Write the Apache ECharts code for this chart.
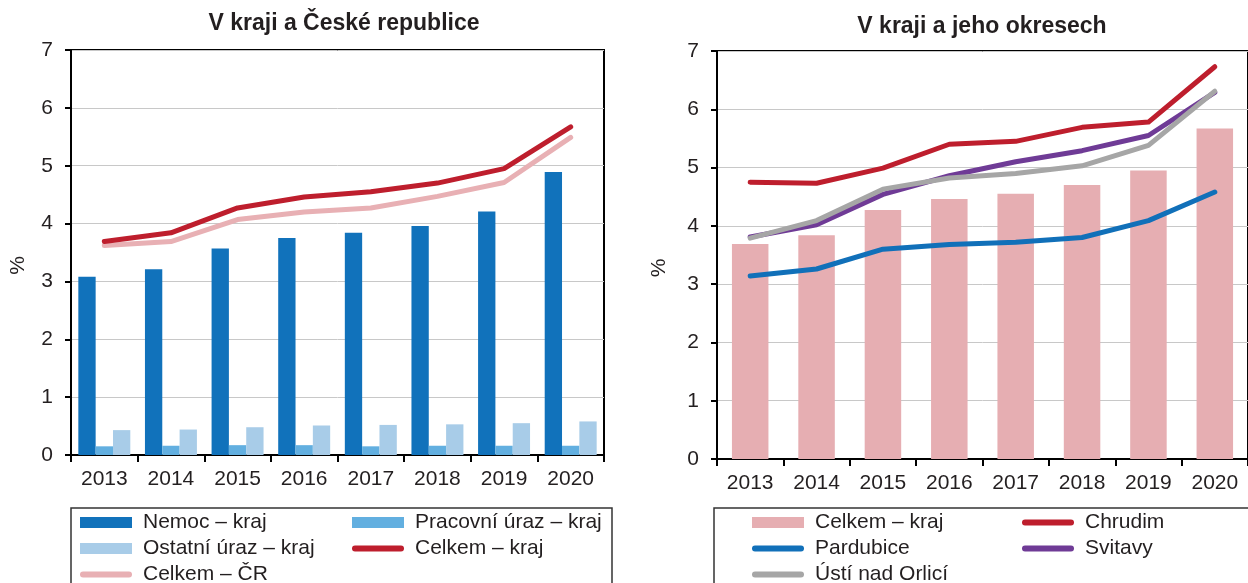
<!DOCTYPE html>
<html>
<head>
<meta charset="utf-8">
<script src="https://cdn.jsdelivr.net/npm/echarts@6/dist/echarts.min.js"></script>
<style>
  html, body { margin: 0; padding: 0; background: #fff; }
  #chart { width: 1248px; height: 583px; }
</style>
</head>
<body>
<div id="chart"></div>
<script>
// roky na ose x
var years = ['2013', '2014', '2015', '2016', '2017', '2018', '2019', '2020'];

// levý graf - kraj a ČR
var nemocKraj = [3.08, 3.21, 3.57, 3.75, 3.84, 3.96, 4.21, 4.89];
var pracovniUrazKraj = [0.15, 0.16, 0.17, 0.17, 0.15, 0.16, 0.16, 0.16];
var ostatniUrazKraj = [0.43, 0.44, 0.48, 0.51, 0.52, 0.53, 0.55, 0.58];
var celkemKraj = [3.69, 3.84, 4.27, 4.46, 4.55, 4.70, 4.95, 5.67];
var celkemCR = [3.62, 3.69, 4.07, 4.20, 4.27, 4.47, 4.71, 5.49];

// pravý graf - okresy
var chrudim = [4.75, 4.73, 4.99, 5.40, 5.45, 5.69, 5.78, 6.73];
var pardubice = [3.14, 3.26, 3.60, 3.68, 3.72, 3.80, 4.09, 4.58];
var svitavy = [3.81, 4.02, 4.54, 4.86, 5.10, 5.29, 5.55, 6.29];
var ustiNadOrlici = [3.79, 4.09, 4.63, 4.82, 4.90, 5.03, 5.38, 6.31];

var FONT = 'Liberation Sans, Arial, sans-serif';
var TXT = '#231f20';
var capsule = 'path://M3,0L49,0A3,3,0,0,1,49,6L3,6A3,3,0,0,1,3,0Z';

function yAx(grid, gap) {
  return {
    type: 'value', gridIndex: grid, min: 0, max: 7, interval: 1,
    name: '%', nameLocation: 'middle', nameGap: gap, nameRotate: 90,
    nameTextStyle: { fontSize: 21, color: TXT, fontFamily: FONT, padding: [0, 26, 0, 0] },
    axisLine: { show: true, lineStyle: { color: '#000', width: 2 } },
    axisTick: { show: true, length: 6, lineStyle: { color: '#000', width: 2 } },
    axisLabel: { fontSize: 21, color: TXT, fontFamily: FONT, margin: 18 },
    splitLine: { lineStyle: { color: '#c8c8c8', width: 1 } }
  };
}
function xAx(grid) {
  return {
    type: 'category', gridIndex: grid, data: years,
    axisLine: { lineStyle: { color: '#000', width: 2 } },
    axisTick: { show: true, length: 7, lineStyle: { color: '#000', width: 2 } },
    axisLabel: { fontSize: 21, color: TXT, fontFamily: FONT, margin: 14 }
  };
}
// jedna položka legendy = jedna komponenta, kvůli pozici
function leg(name, x, y, line, label) {
  return {
    data: [name], left: x, top: y, padding: 0, selectedMode: false,
    itemWidth: 52, itemHeight: line ? 6 : 11,
    icon: line ? capsule : 'rect',
    formatter: function () { return label || name; },
    textStyle: { fontSize: 21, color: TXT, fontFamily: FONT, padding: [0, 0, 0, 6] }
  };
}
function lineS(name, data, color, ax) {
  return {
    name: name, type: 'line', data: data, xAxisIndex: ax, yAxisIndex: ax,
    symbol: 'none', itemStyle: { color: color },
    lineStyle: { color: color, width: 5, cap: 'round', join: 'round' }
  };
}

var chart = echarts.init(document.getElementById('chart'));
chart.setOption({
  animation: false,
  grid: [
    { left: 71, top: 50, width: 533, height: 405, show: true, borderColor: '#000', borderWidth: 2 },
    { left: 717, top: 51, width: 538, height: 408, show: true, borderColor: '#000', borderWidth: 2 }
  ],
  xAxis: [xAx(0), xAx(1)],
  yAxis: [yAx(0, 42), yAx(1, 47)],
  legend: [
    leg('Nemoc – kraj', 80, 512, false),
    leg('Pracovní úraz – kraj', 352, 512, false),
    leg('Ostatní úraz – kraj', 80, 538, false),
    leg('Celkem – kraj', 352, 538, true),
    leg('Celkem – ČR', 80, 564, true),
    leg('Celkem – kraj (okresy)', 752, 512, false, 'Celkem – kraj'),
    leg('Chrudim', 1022, 512, true),
    leg('Pardubice', 752, 538, true),
    leg('Svitavy', 1022, 538, true),
    leg('Ústí nad Orlicí', 752, 564, true)
  ],
  graphic: [
    { type: 'text', x: 344, y: 24, style: { text: 'V kraji a České republice', font: 'bold 23px ' + FONT, fill: TXT, textAlign: 'center', textVerticalAlign: 'middle' } },
    { type: 'text', x: 982, y: 27, style: { text: 'V kraji a jeho okresech', font: 'bold 23px ' + FONT, fill: TXT, textAlign: 'center', textVerticalAlign: 'middle' } },
    { type: 'rect', shape: { x: 71, y: 508, width: 541, height: 90 }, style: { fill: 'none', stroke: '#333', lineWidth: 1.5 } },
    { type: 'rect', shape: { x: 714, y: 508, width: 560, height: 90 }, style: { fill: 'none', stroke: '#333', lineWidth: 1.5 } }
  ],
  series: [
    { name: 'Nemoc – kraj', type: 'bar', data: nemocKraj, xAxisIndex: 0, yAxisIndex: 0,
      barGap: 0, barCategoryGap: '22%', itemStyle: { color: '#1172bb' } },
    { name: 'Pracovní úraz – kraj', type: 'bar', data: pracovniUrazKraj, xAxisIndex: 0, yAxisIndex: 0,
      barGap: 0, barCategoryGap: '22%', itemStyle: { color: '#62afe0' } },
    { name: 'Ostatní úraz – kraj', type: 'bar', data: ostatniUrazKraj, xAxisIndex: 0, yAxisIndex: 0,
      barGap: 0, barCategoryGap: '22%', itemStyle: { color: '#a8cce8' } },
    lineS('Celkem – ČR', celkemCR, '#e8b0b4', 0),
    lineS('Celkem – kraj', celkemKraj, '#be1e2d', 0),

    { name: 'Celkem – kraj (okresy)', type: 'bar', data: celkemKraj, xAxisIndex: 1, yAxisIndex: 1,
      barCategoryGap: '45%', itemStyle: { color: '#e6aeb2' } },
    lineS('Pardubice', pardubice, '#1170b9', 1),
    lineS('Chrudim', chrudim, '#be1e2d', 1),
    lineS('Svitavy', svitavy, '#6f3b96', 1),
    lineS('Ústí nad Orlicí', ustiNadOrlici, '#a6a6a6', 1)
  ]
});
</script>
</body>
</html>
